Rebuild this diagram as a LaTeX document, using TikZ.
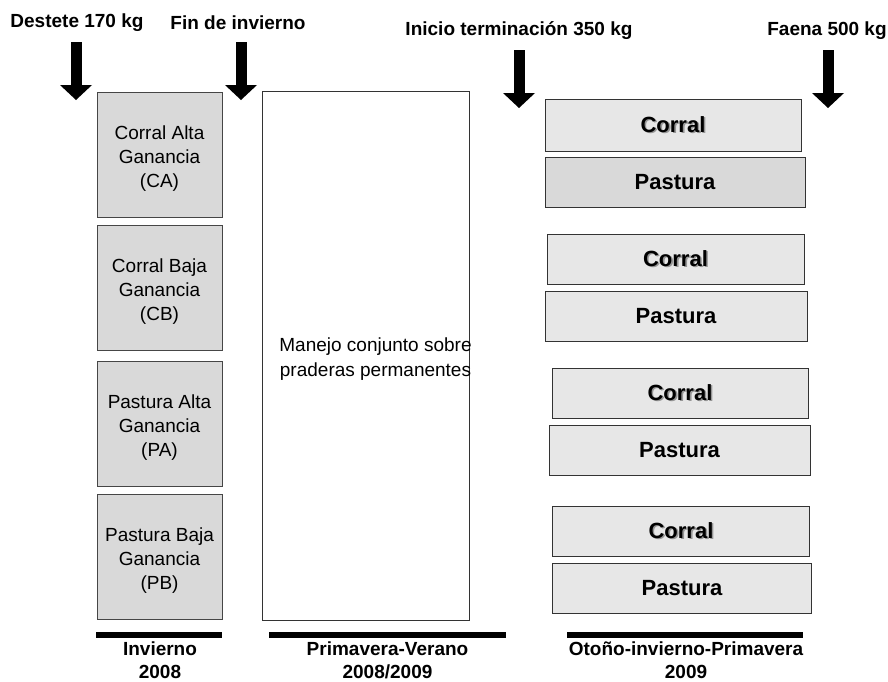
\documentclass[tikz,border=0pt]{standalone}
\usepackage{fontspec}
\setmainfont{Liberation Sans}
\usetikzlibrary{arrows.meta}
\definecolor{boxgrey}{RGB}{217,217,217}
\definecolor{boxlight}{RGB}{231,231,231}
\definecolor{boxline}{RGB}{70,70,70}
\definecolor{shadowgrey}{RGB}{150,150,150}
\newcommand{\corraltext}[1]{\makebox[0pt][l]{\hspace{1.6pt}\raisebox{-1.6pt}{\color{shadowgrey}#1}}#1}
\tikzstyle{grey box}=[fill=boxgrey, draw=boxline, line width=1pt, minimum width=125pt, minimum height=125pt]
\tikzstyle{box text}=[align=center, font=\fontsize{19}{24}\selectfont, yshift=-4pt]
\tikzstyle{white box}=[fill=white, draw=black!80, line width=1pt]
\tikzstyle{light box}=[fill=boxlight, draw=black!80, line width=1pt, minimum height=50pt, font=\fontsize{22}{26}\selectfont\bfseries]
\tikzstyle{dark box}=[light box, fill=boxgrey]
\tikzstyle{event}=[font=\fontsize{19}{23}\selectfont\bfseries]
\tikzstyle{season}=[align=center, font=\fontsize{19}{23}\selectfont\bfseries]
\tikzstyle{bar}=[fill=black, minimum height=6pt, inner sep=0pt]
\tikzstyle{block arrow}=[line width=11pt, -{Triangle[width=32pt, length=15pt, line width=0pt]}]

\begin{document}
\begin{tikzpicture}[x=1pt, y=-1pt]
	\useasboundingbox (0, 0) rectangle (888, 681);
	% time points
	\node [style=event] (0) at (77, 23) {Destete 170 kg};
	\node [style=event] (1) at (238, 23) {Fin de invierno};
	\node [style=event] (2) at (519, 31) {Inicio terminación 350 kg};
	\node [style=event] (3) at (827, 31) {Faena 500 kg};
	\coordinate (a0) at (76, 42);
	\coordinate (b0) at (76, 100);
	\coordinate (a1) at (241, 42);
	\coordinate (b1) at (241, 100);
	\coordinate (a2) at (519, 50);
	\coordinate (b2) at (519, 108);
	\coordinate (a3) at (828, 50);
	\coordinate (b3) at (828, 108);
	\foreach \i in {0,...,3}
		\draw [style=block arrow] (a\i) -- (b\i);
	% winter treatments
	\node [style=grey box, label={[box text]center:Corral Alta\\Ganancia\\(CA)}] (4) at (159.5, 154.5) {};
	\node [style=grey box, label={[box text]center:Corral Baja\\Ganancia\\(CB)}] (5) at (159.5, 287.5) {};
	\node [style=grey box, label={[box text]center:Pastura Alta\\Ganancia\\(PA)}] (6) at (159.5, 424) {};
	\node [style=grey box, label={[box text]center:Pastura Baja\\Ganancia\\(PB)}] (7) at (159.5, 557) {};
	% spring-summer
	\node [style=white box, minimum width=207pt, minimum height=529pt] (8) at (365.5, 355.5) {};
	\node [align=center, font=\fontsize{19}{25}\selectfont] (9) at (375.5, 359) {Manejo conjunto sobre\\praderas permanentes};
	% finishing
	\node [style=light box, minimum width=256pt, minimum height=52pt] (10) at (673, 125) {\corraltext{Corral}};
	\node [style=dark box, minimum width=260pt] (11) at (675, 182) {Pastura};
	\node [style=light box, minimum width=257pt] (12) at (675.5, 259) {\corraltext{Corral}};
	\node [style=light box, minimum width=262pt] (13) at (676, 316.5) {Pastura};
	\node [style=light box, minimum width=256pt] (14) at (680, 393) {\corraltext{Corral}};
	\node [style=light box, minimum width=261pt] (15) at (679.5, 450.5) {Pastura};
	\node [style=light box, minimum width=257pt] (16) at (681, 531) {\corraltext{Corral}};
	\node [style=light box, minimum width=259pt] (17) at (682, 588.5) {Pastura};
	% seasons
	\node [style=bar, minimum width=126pt] (18) at (159, 635) {};
	\node [style=bar, minimum width=237pt] (19) at (387.5, 635) {};
	\node [style=bar, minimum width=236pt] (20) at (685, 635) {};
	\node [style=season] (21) at (160, 660) {Invierno\\2008};
	\node [style=season] (22) at (387.5, 660) {Primavera-Verano\\2008/2009};
	\node [style=season] (23) at (686, 660) {Otoño-invierno-Primavera\\2009};
\end{tikzpicture}
\end{document}
